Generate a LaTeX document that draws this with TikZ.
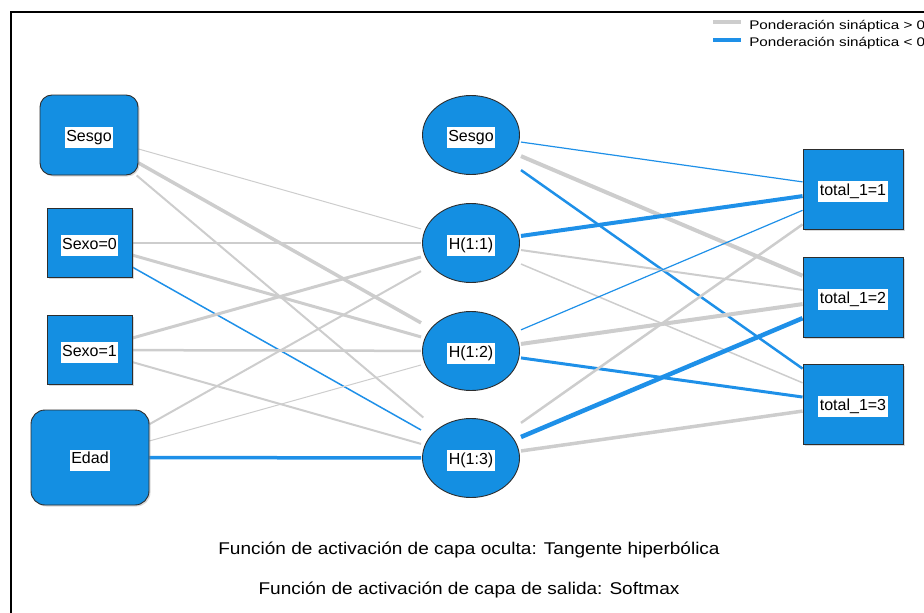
\documentclass[tikz,border=0pt]{standalone}
\usepackage{fontspec}
\setmainfont{Liberation Sans}
\usetikzlibrary{backgrounds,shadows}

\definecolor{unitblue}{RGB}{20,143,226}
\definecolor{unitline}{RGB}{45,45,45}
\definecolor{wneg}{RGB}{30,144,232}
\definecolor{wpos}{RGB}{205,205,205}

% white tag behind each unit name, sitting a little low
\newcommand{\lbl}[1]{\raisebox{-2.5pt}[\height][\depth]{\setlength{\fboxsep}{1.5pt}\colorbox{white}{\strut#1}}}

\tikzset{
  unit/.style={draw=unitline, fill=unitblue, line width=0.9pt, inner sep=0pt,
    font=\fontsize{16}{18}\selectfont,
    drop shadow={shadow xshift=1.5pt, shadow yshift=-1.5pt, opacity=0.3}},
  inbox/.style={unit, rectangle, minimum width=85pt, minimum height=69pt},
  biasbox/.style={unit, rounded corners=12pt, minimum width=98pt, minimum height=80pt},
  outbox/.style={unit, rectangle, minimum width=100pt, minimum height=80pt},
  % hidden units: connectors stop at the box, the ellipse is drawn inside it
  hid/.style={rectangle, inner sep=0pt, outer sep=0pt, minimum width=100pt,
    minimum height=81pt, font=\fontsize{16}{18}\selectfont,
    path picture={\draw[draw=unitline, fill=unitblue, line width=0.9pt]
      (path picture bounding box.center) ellipse [x radius=48.5pt, y radius=39.5pt];}},
  caption/.style={anchor=base, xscale=1.12, font=\fontsize{17}{19}\selectfont},
  keytext/.style={anchor=base west, xscale=1.22, font=\fontsize{12.5}{14}\selectfont}
}

\begin{document}
\begin{tikzpicture}[x=1pt, y=-1pt]
  \useasboundingbox (0,0) rectangle (924,613);
  \draw [line width=2pt] (11,613) -- (11,12) -- (924,12);

  %% input layer
  \node [biasbox] (is) at (89,135) {\lbl{Sesgo}};
  \node [inbox] (s0) at (89.5,243) {\lbl{Sexo=0}};
  \node [inbox] (s1) at (89.5,350) {\lbl{Sexo=1}};
  \node [biasbox, rounded corners=14pt, minimum width=118pt, minimum height=95pt]
    (ed) at (90,457.5) {\lbl{Edad}};

  %% hidden layer
  \node [hid] (hs) at (471,135) {\lbl{Sesgo}};
  \node [hid] (h1) at (471,243) {\lbl{H(1:1)}};
  \node [hid] (h2) at (471,351) {\lbl{H(1:2)}};
  \node [hid] (h3) at (471,458) {\lbl{H(1:3)}};

  %% output layer
  \node [outbox] (o1) at (853,189) {\lbl{total\_1=1}};
  \node [outbox] (o2) at (853,297) {\lbl{total\_1=2}};
  \node [outbox] (o3) at (853,404) {\lbl{total\_1=3}};

  %% synaptic weights: from/to/colour/width
  \begin{scope}[on background layer]
    \foreach \a/\b/\c/\w in {
        is/h1/wpos/1, is/h2/wpos/3.5, is/h3/wpos/2,
        s0/h1/wpos/1.5, s0/h2/wpos/3, s0/h3/wneg/1.5,
        s1/h1/wpos/3, s1/h2/wpos/2.5, s1/h3/wpos/2,
        ed/h1/wpos/2, ed/h2/wpos/1, ed/h3/wneg/3.5,
        hs/o1/wneg/1.2, hs/o2/wpos/4, hs/o3/wneg/2.5,
        h1/o1/wneg/4, h1/o2/wpos/2, h1/o3/wpos/1.5,
        h2/o1/wneg/1.2, h2/o2/wpos/4, h2/o3/wneg/3,
        h3/o1/wpos/2.5, h3/o2/wneg/4.5, h3/o3/wpos/3.5}
      \draw [\c, line width=\w pt] (\a) -- (\b);
  \end{scope}

  %% key
  \draw [wpos, line width=4pt] (713,22) -- (741,22);
  \node [keytext] (kpos) at (745,29.3) {Ponderación sináptica > 0};
  \draw [wneg, line width=4pt] (713,39.5) -- (741,39.5);
  \node [keytext] (kneg) at (745,46.5) {Ponderación sináptica < 0};

  \node [caption] (act1) at (469,554) {Función de activación de capa oculta: Tangente hiperbólica};
  \node [caption] (act2) at (469,594) {Función de activación de capa de salida: Softmax};
\end{tikzpicture}
\end{document}
